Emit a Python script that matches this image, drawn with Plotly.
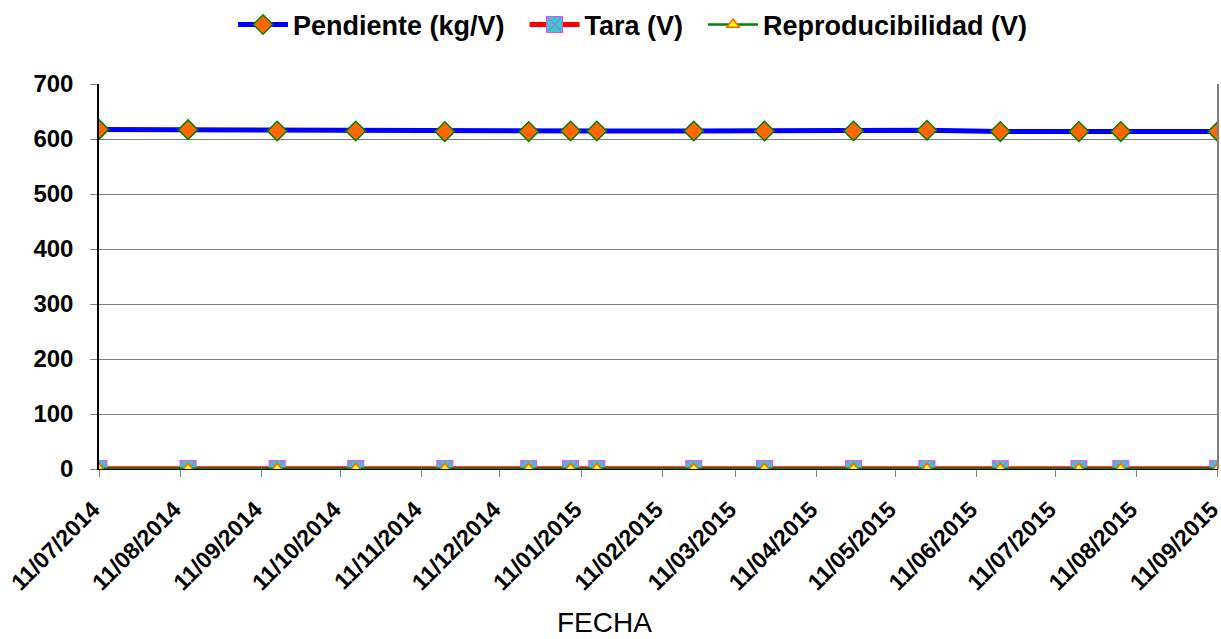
import plotly.graph_objects as go

fechas = ["2014-07-11", "2014-08-14", "2014-09-17", "2014-10-17", "2014-11-20",
          "2014-12-22", "2015-01-07", "2015-01-17", "2015-02-23", "2015-03-22",
          "2015-04-25", "2015-05-23", "2015-06-20", "2015-07-20", "2015-08-05",
          "2015-09-11"]
pendiente = [617.5, 617, 614.5, 614.5, 613.5, 613.5, 614.5, 614.5, 614.5, 614.5,
             614.5, 616, 613.5, 613.5, 613.5, 613.5]
tara = [0.6] * 16
reproducibilidad = [0.5] * 16

tick_fechas = ["2014-07-11", "2014-08-11", "2014-09-11", "2014-10-11", "2014-11-11",
               "2014-12-11", "2015-01-11", "2015-02-11", "2015-03-11", "2015-04-11",
               "2015-05-11", "2015-06-11", "2015-07-11", "2015-08-11", "2015-09-11"]
tick_textos = ["11/07/2014", "11/08/2014", "11/09/2014", "11/10/2014", "11/11/2014",
               "11/12/2014", "11/01/2015", "11/02/2015", "11/03/2015", "11/04/2015",
               "11/05/2015", "11/06/2015", "11/07/2015", "11/08/2015", "11/09/2015"]

FONT = "Liberation Sans, Arial, sans-serif"
NB = "\u00a0"

fig = go.Figure()
fig.add_trace(go.Scatter(
    x=fechas, y=pendiente, name="<b>Pendiente (kg/V)</b>" + NB * 2, mode="lines+markers",
    line=dict(color="#0000FF", width=5),
    marker=dict(symbol="diamond", size=15, color="#FF6600",
                line=dict(color="#008000", width=1.5))))
fig.add_trace(go.Scatter(
    x=fechas, y=tara, name="<b>Tara (V)</b>" + NB * 2, mode="lines+markers",
    line=dict(color="#FF0000", width=5),
    marker=dict(symbol="square-x", size=16, color="#33CCCC",
                line=dict(color="#EE44EE", width=1))))
fig.add_trace(go.Scatter(
    x=fechas, y=reproducibilidad, name="<b>Reproducibilidad (V)</b>", mode="lines+markers",
    line=dict(color="#008000", width=2.5),
    marker=dict(symbol="triangle-up", size=11, color="#FFFF00",
                line=dict(color="#FF6600", width=1.5))))

fig.update_layout(
    width=1221, height=639,
    margin=dict(l=99, r=3, t=84, b=170, autoexpand=False),
    paper_bgcolor="white", plot_bgcolor="white",
    font=dict(family=FONT, color="black"),
    legend=dict(orientation="h", x=(633 - 99) / 1119, xanchor="center",
                y=1 - 25 / 639, yanchor="middle",
                yref="container", font=dict(size=27, family=FONT),
                traceorder="normal", itemwidth=50),
    showlegend=True,
)
fig.update_xaxes(
    type="date", range=["2014-07-11", "2015-09-11 02:00"], automargin=False,
    tickmode="array", tickvals=tick_fechas, ticktext=tick_textos,
    tickangle=-45, tickfont=dict(size=23, family=FONT, weight="bold"),
    ticks="outside", ticklen=7, tickcolor="#808080", ticklabelstandoff=10,
    ticklabelshift=-6, ticklabeloverflow="allow",
    showgrid=False, showline=True, linecolor="black", linewidth=1, zeroline=False)
fig.update_yaxes(
    range=[0, 700], dtick=100, tickfont=dict(size=24, family=FONT, weight="bold"),
    ticks="outside", ticklen=7, tickcolor="#808080", ticklabelstandoff=12,
    automargin=False,
    showgrid=True, gridcolor="#808080", gridwidth=1,
    showline=True, linecolor="black", linewidth=1.5, zeroline=False)
fig.add_shape(type="line", xref="paper", yref="paper", x0=1, x1=1, y0=0, y1=1,
              line=dict(color="#808080", width=2))
fig.add_annotation(text="FECHA", xref="paper", yref="paper", x=(604 - 99) / 1119,
                   y=(469 - 622) / 385,
                   showarrow=False, font=dict(size=28, family=FONT, color="black"),
                   yanchor="middle", xanchor="center")

fig.write_html("out.html")
